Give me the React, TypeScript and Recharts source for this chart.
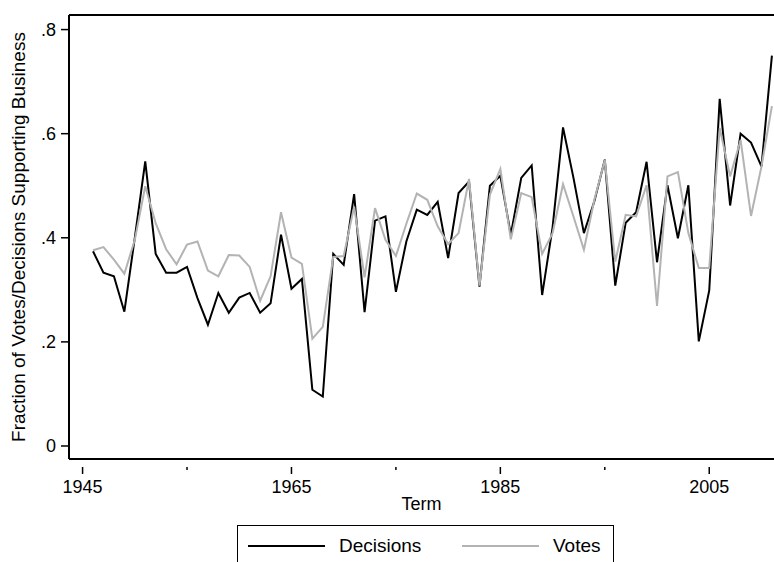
import { Line, LineChart, ReferenceLine, XAxis, YAxis, Label } from 'recharts'

const terms = [
  1946, 1947, 1948, 1949, 1950, 1951, 1952, 1953, 1954, 1955, 1956, 1957, 1958, 1959, 1960,
  1961, 1962, 1963, 1964, 1965, 1966, 1967, 1968, 1969, 1970, 1971, 1972, 1973, 1974, 1975,
  1976, 1977, 1978, 1979, 1980, 1981, 1982, 1983, 1984, 1985, 1986, 1987, 1988, 1989, 1990,
  1991, 1992, 1993, 1994, 1995, 1996, 1997, 1998, 1999, 2000, 2001, 2002, 2003, 2004, 2005,
  2006, 2007, 2008, 2009, 2010, 2011,
]

const decisions = [
  0.374, 0.333, 0.326, 0.258, 0.4, 0.547, 0.369, 0.333, 0.333, 0.344, 0.284, 0.233, 0.294, 0.256, 0.285,
  0.294, 0.256, 0.274, 0.406, 0.302, 0.321, 0.108, 0.095, 0.369, 0.348, 0.484, 0.257, 0.433, 0.441, 0.296,
  0.393, 0.454, 0.444, 0.469, 0.361, 0.486, 0.508, 0.306, 0.5, 0.519, 0.406, 0.515, 0.539, 0.29, 0.42,
  0.612, 0.515, 0.409, 0.47, 0.55, 0.308, 0.429, 0.449, 0.546, 0.353, 0.501, 0.399, 0.501, 0.201, 0.299,
  0.667, 0.462, 0.6, 0.583, 0.537, 0.75,
]

const votes = [
  0.376, 0.382, 0.358, 0.331, 0.396, 0.499, 0.428, 0.378, 0.349, 0.387, 0.393, 0.337, 0.326, 0.367, 0.366,
  0.344, 0.279, 0.326, 0.449, 0.362, 0.35, 0.206, 0.229, 0.363, 0.365, 0.46, 0.324, 0.457, 0.396, 0.365,
  0.427, 0.485, 0.473, 0.422, 0.388, 0.409, 0.513, 0.308, 0.483, 0.532, 0.397, 0.486, 0.478, 0.369, 0.409,
  0.503, 0.441, 0.377, 0.473, 0.549, 0.354, 0.444, 0.441, 0.501, 0.269, 0.518, 0.526, 0.409, 0.342, 0.342,
  0.611, 0.518, 0.588, 0.442, 0.537, 0.653,
]

const xTicks = [1945, 1955, 1965, 1975, 1985, 1995, 2005]
const xLabelled = [1945, 1965, 1985, 2005]
const yTicks = [0, 0.2, 0.4, 0.6, 0.8]

const data = terms.map((term, i) => ({ term, decisions: decisions[i], votes: votes[i] }))

const FONT = 'Liberation Sans, Arial, Helvetica, sans-serif'

function TermTick(props: any) {
  const { x, y, payload } = props
  const major = xLabelled.includes(payload.value)
  return (
    <g>
      <line x1={x} y1={y} x2={x} y2={y + (major ? 7 : 3)} stroke="#000" strokeWidth={1.5} />
      {major && (
        <text x={x} y={y + 26} textAnchor="middle" fontSize={18} fontFamily={FONT} fill="#000">
          {payload.value}
        </text>
      )}
    </g>
  )
}

function fmtShare(v: number) {
  if (v === 0) return '0'
  return v.toFixed(1).replace(/^0/, '')
}

export default function App() {
  return (
    <div style={{ position: 'absolute', left: 0, top: 0, width: 774, height: 562, background: '#fff', overflow: 'hidden' }}>
      <LineChart width={774} height={562} data={data} margin={{ top: 15, right: 0, left: 0, bottom: 0 }}>
        <XAxis
          dataKey="term"
          type="number"
          domain={[1943.7, 2011.2]}
          ticks={xTicks}
          allowDataOverflow
          tick={<TermTick />}
          tickLine={false}
          axisLine={{ stroke: '#000', strokeWidth: 2 }}
          height={103}
        >
          <Label value="Term" position="insideTop" offset={38} fontSize={18} fontFamily={FONT} fill="#000" />
        </XAxis>
        <YAxis
          type="number"
          domain={[-0.025, 0.828]}
          ticks={yTicks}
          allowDataOverflow
          tickFormatter={fmtShare}
          width={69}
          tickSize={8}
          tickMargin={5}
          tick={{ fontSize: 18, fontFamily: FONT, fill: '#000' }}
          tickLine={{ stroke: '#000', strokeWidth: 1.5 }}
          axisLine={{ stroke: '#000', strokeWidth: 2 }}
        >
          <Label
            value="Fraction of Votes/Decisions Supporting Business"
            angle={-90}
            position="center"
            dx={-16}
            fontSize={19}
            fontFamily={FONT}
            fill="#000"
          />
        </YAxis>
        <ReferenceLine y={0.828} stroke="#000" strokeWidth={2} />
        <Line type="linear" dataKey="decisions" stroke="#000" strokeWidth={2} dot={false} isAnimationActive={false} />
        <Line type="linear" dataKey="votes" stroke="#b3b3b3" strokeWidth={2} dot={false} isAnimationActive={false} />
      </LineChart>
      <div
        style={{
          position: 'absolute',
          left: 237,
          top: 525,
          width: 375,
          height: 50,
          border: '1.5px solid #000',
          fontFamily: FONT,
          fontSize: 19,
          lineHeight: '22px',
          color: '#000',
        }}
      >
        <div style={{ position: 'absolute', left: 10, top: 19, width: 77, borderTop: '2px solid #000' }} />
        <div style={{ position: 'absolute', left: 101, top: 9 }}>Decisions</div>
        <div style={{ position: 'absolute', left: 224, top: 19, width: 77, borderTop: '2px solid #b3b3b3' }} />
        <div style={{ position: 'absolute', left: 315, top: 9 }}>Votes</div>
      </div>
    </div>
  )
}
